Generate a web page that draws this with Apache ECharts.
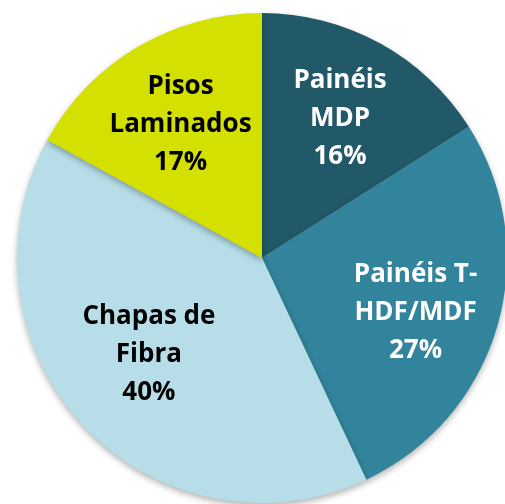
<!DOCTYPE html>
<html>
<head>
<meta charset="utf-8">
<script src="https://cdn.jsdelivr.net/npm/echarts@6/dist/echarts.min.js"></script>
<style>
  html, body { margin: 0; padding: 0; background: #fff; }
  #chart { width: 505px; height: 504px; }
</style>
</head>
<body>
<div id="chart"></div>
<script>
  // dados
  var categories = ['Painéis\nMDP', 'Painéis T-\nHDF/MDF', 'Chapas de\nFibra', 'Pisos\nLaminados']
  var values = [16, 27, 40, 17]
  var colors = ['#215968', '#31849B', '#B7DEE8', '#D3E000']
  var labelColors = ['#ffffff', '#ffffff', '#000000', '#000000']
  // pequenos ajustes de posição dos rótulos
  var labelOffsets = [[0, 3], [-2, 9], [5, -14], [1, 6]]

  var chart = echarts.init(document.getElementById('chart'))

  var pieData = categories.map(function (name, i) {
    return { name: name, value: values[i], itemStyle: { color: colors[i] } }
  })
  var labelData = categories.map(function (name, i) {
    return {
      name: name,
      value: values[i],
      itemStyle: { color: 'transparent' },
      label: { color: labelColors[i], offset: labelOffsets[i] }
    }
  })

  var center = [262, 258]
  chart.setOption({
    animation: false,
    series: [
      {
        type: 'pie',
        center: center,
        radius: [0, 245],
        startAngle: 90,
        clockwise: true,
        silent: true,
        label: { show: false },
        labelLine: { show: false },
        itemStyle: {
          borderWidth: 0,
          shadowBlur: 6,
          shadowOffsetY: 3,
          shadowColor: 'rgba(0,0,0,0.3)'
        },
        data: pieData
      },
      {
        // série só para posicionar os rótulos a ~65% do raio
        type: 'pie',
        center: center,
        radius: [73, 245],
        startAngle: 90,
        clockwise: true,
        silent: true,
        labelLine: { show: false },
        label: {
          show: true,
          position: 'inside',
          formatter: '{b}\n{c}%',
          fontFamily: 'Open Sans',
          fontWeight: 'bold',
          fontSize: 26,
          lineHeight: 38,
          align: 'center'
        },
        data: labelData
      }
    ]
  })
</script>
</body>
</html>
